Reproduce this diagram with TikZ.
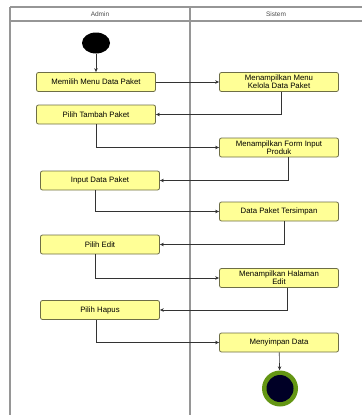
\documentclass[tikz,border=0pt]{standalone}
\usepackage{fontspec}
\setmainfont{Liberation Sans}
\usepackage{tikz}
\usetikzlibrary{arrows.meta, positioning, shapes.geometric}

\definecolor{actfill}{RGB}{255,255,150}
\definecolor{actline}{RGB}{110,110,70}
\definecolor{lanegray}{RGB}{150,150,150}
\definecolor{endgreen}{RGB}{100,150,20}

\begin{document}
\begin{tikzpicture}[x=1pt,y=-1pt,on grid,
    activity/.style={draw=actline, fill=actfill, rounded corners=2pt, line width=0.8pt,
        minimum width=119pt, minimum height=19pt, inner sep=1pt, align=center,
        font=\fontsize{7.8}{8}\selectfont},
    flow/.style={-{Stealth[length=4pt,width=3.5pt]}, draw=black!80, line width=0.6pt},
    lane/.style={draw=lanegray, line width=1.4pt}]

        \useasboundingbox (0,0) rectangle (362,415);

        % swimlanes
        \draw[lane] (10,7) -- (362,7);
        \draw[lane] (10,21) -- (362,21);
        \draw[lane] (10,7) -- (10,415);
        \draw[lane] (190,7) -- (190,415);
        \node[font=\fontsize{6.5}{6.5}\selectfont, text=black!70] (admin)  at (100,14) {Admin};
        \node[font=\fontsize{6.5}{6.5}\selectfont, text=black!70] (sistem) at (276,14) {Sistem};

        % admin
        \node[ellipse, fill=black, minimum width=28pt, minimum height=21pt, inner sep=0pt] (start) at (96,43) {};
        \node[activity]    (memilih)   [below=39pt of start]                {Memilih Menu Data Paket};
        \node[activity]    (tambah)    [below=32.5pt of memilih]            {Pilih Tambah Paket};
        \node[activity]    (inputdata) [below right=66pt and 4pt of tambah] {Input Data Paket};
        \node[activity]    (edit)      [below=64pt of inputdata]            {Pilih Edit};
        \node[activity]    (hapus)     [below=65.5pt of edit]               {Pilih Hapus};

        % sistem
        \node[activity]    (tampilmenu) [right=183pt of memilih]     {Menampilkan Menu\\Kelola Data Paket};
        \node[activity]    (tampilform) [below=65.5pt of tampilmenu] {Menampilkan Form Input\\Produk};
        \node[activity]    (tersimpan)  [below=64pt of tampilform]   {Data Paket Tersimpan};
        \node[activity]    (tampiledit) [below=66.5pt of tersimpan]  {Menampilkan Halaman\\Edit};
        \node[activity]    (simpan)     [below=64.5pt of tampiledit] {Menyimpan Data};
        \node[circle, fill=endgreen, minimum size=36pt, inner sep=0pt] (finish) [below right=46pt and 1pt of simpan] {};
        \node[circle, fill=black!85!blue, minimum size=27pt, inner sep=0pt] (finishdot) at (finish) {};

        \draw[flow] (start) -- (memilih);
        \draw[flow] (memilih) -- (tampilmenu);
        \draw[flow] ([xshift=2pt]tampilmenu.south) |- (tambah);
        \draw[flow] (tambah) |- (tampilform);
        \draw[flow] ([xshift=9pt]tampilform.south) |- (inputdata);
        \draw[flow] ([xshift=-5pt]inputdata.south) |- (tersimpan);
        \draw[flow] ([xshift=5pt]tersimpan.south) |- (edit);
        \draw[flow] ([xshift=-5pt]edit.south) |- (tampiledit);
        \draw[flow] ([xshift=8pt]tampiledit.south) |- (hapus);
        \draw[flow] ([xshift=-4pt]hapus.south) |- (simpan);
        \draw[flow] (simpan) -- (finish);
    \end{tikzpicture}
\end{document}
